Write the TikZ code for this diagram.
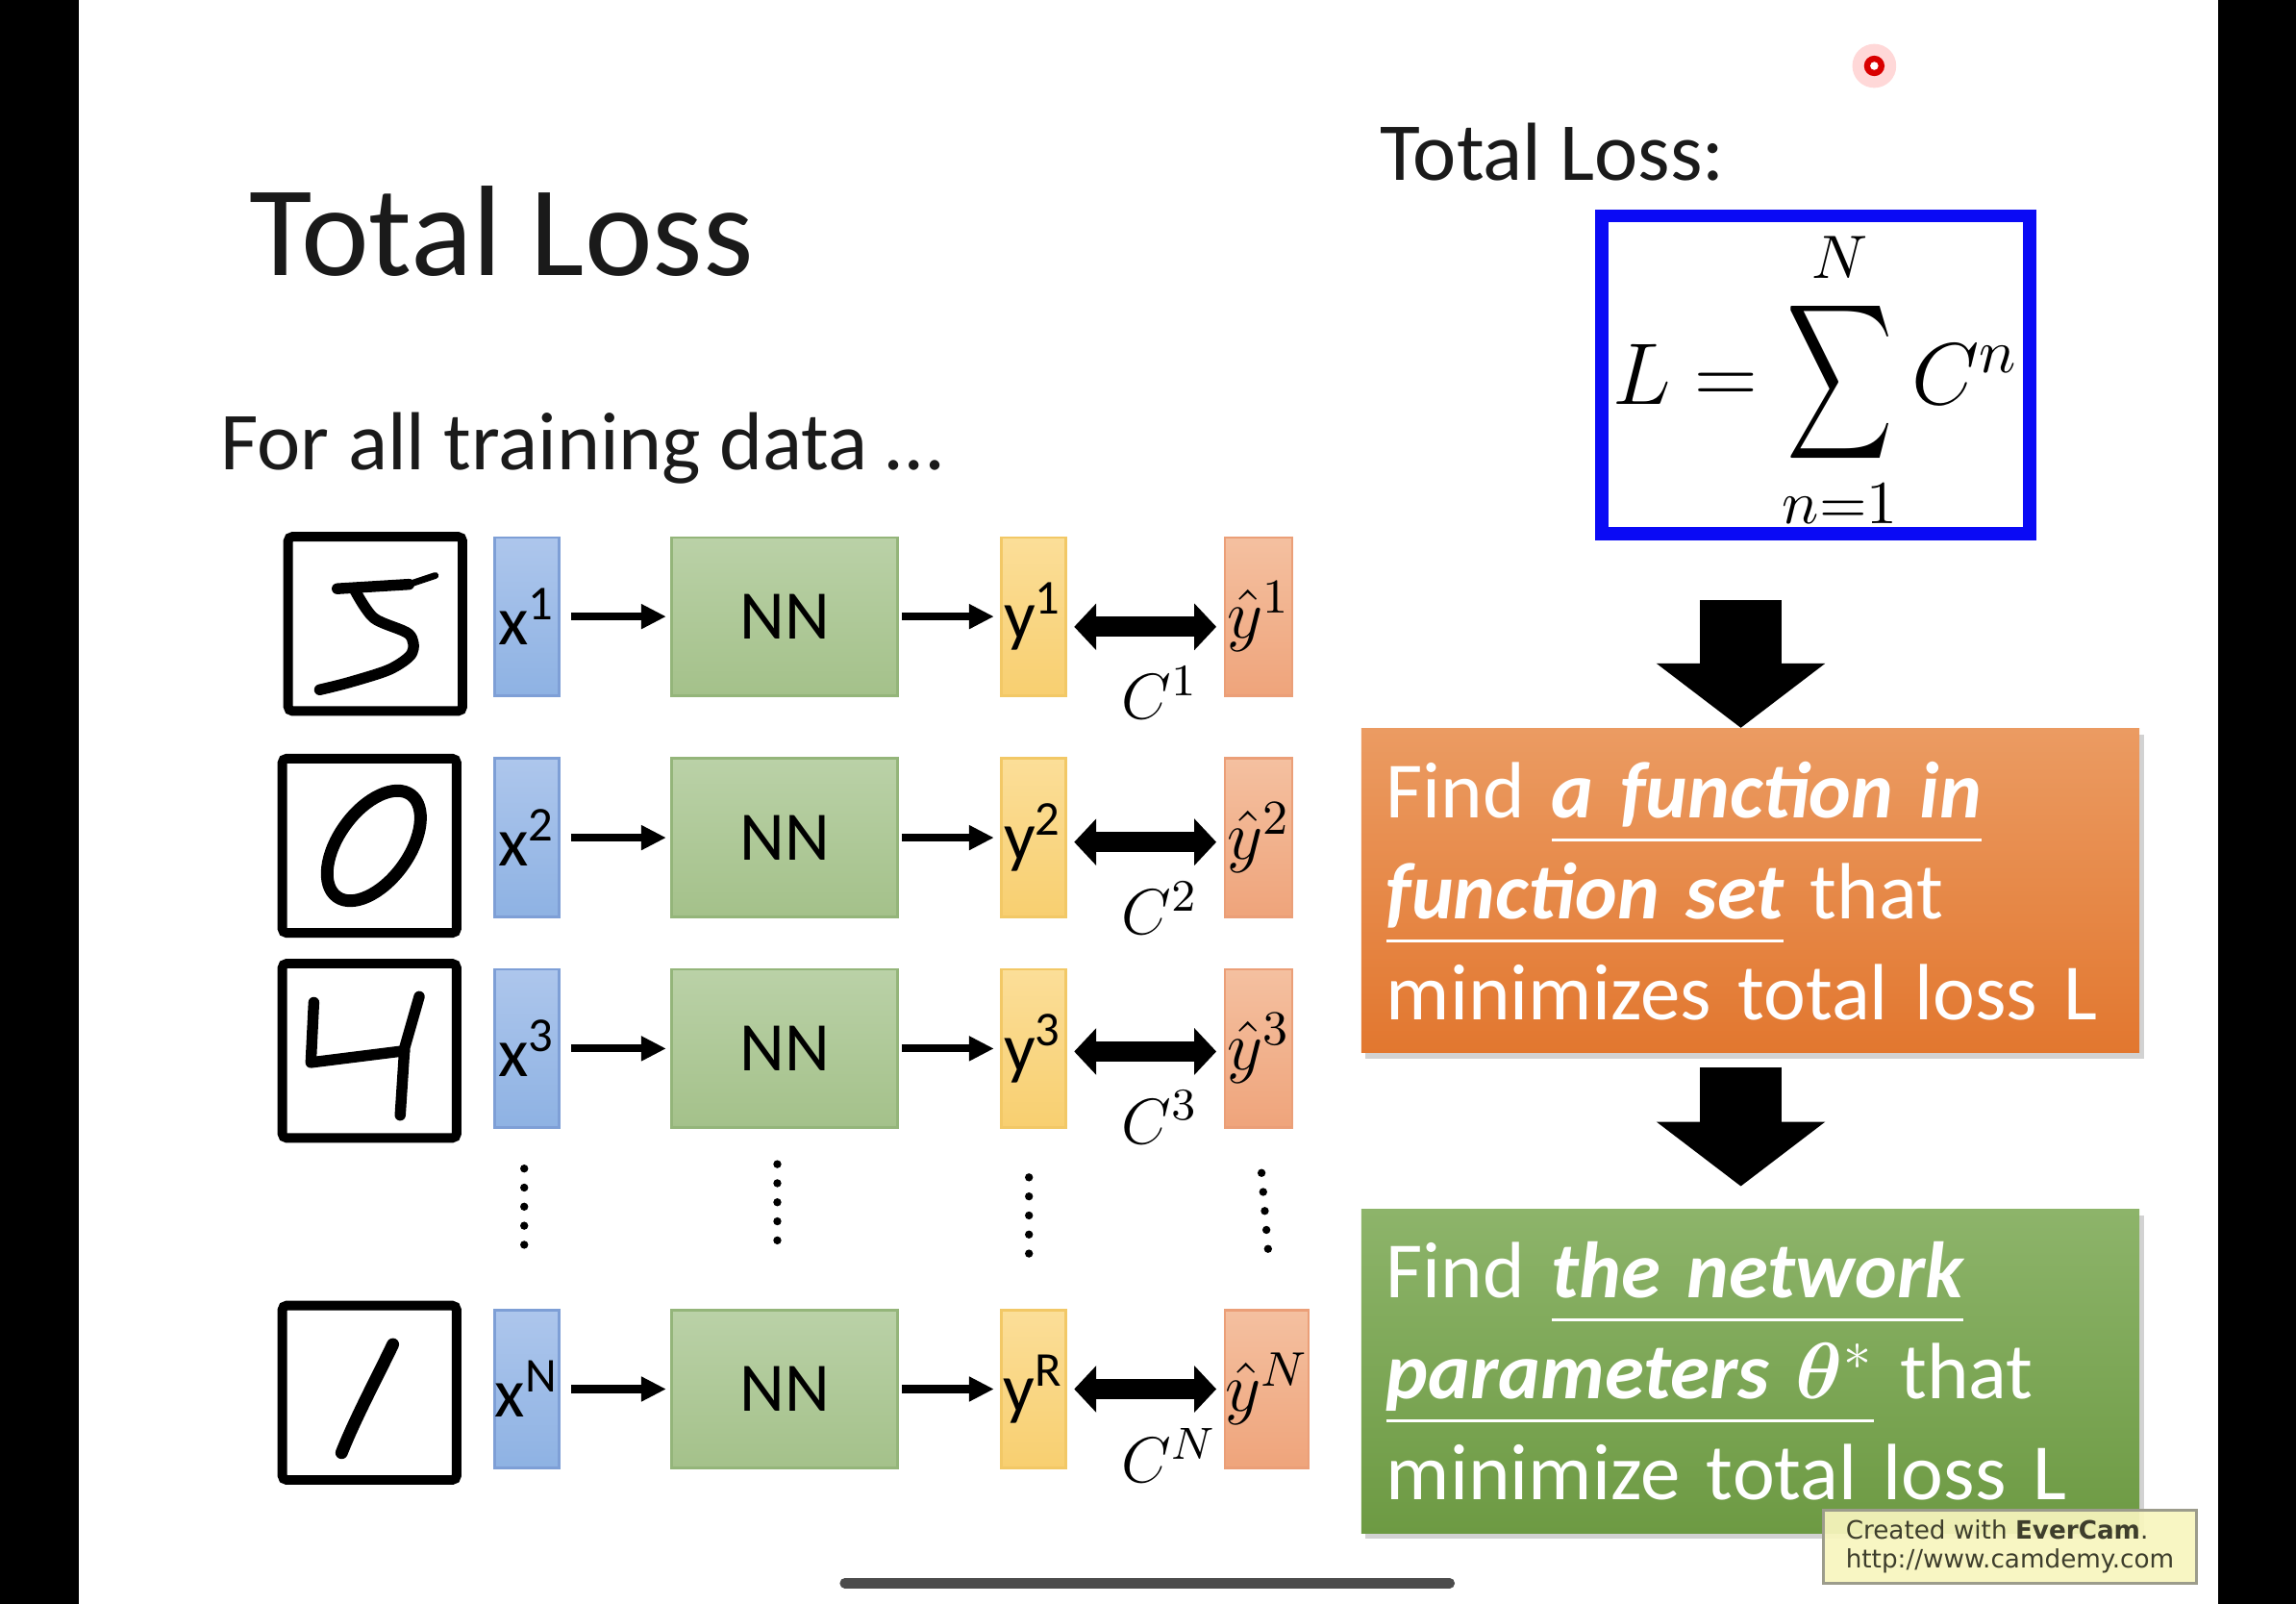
\RequirePackage{fix-cm}
\documentclass[tikz,border=0pt]{standalone}
\usepackage{amsmath,amssymb,bm}
\usepackage[no-math]{fontspec}
\setmainfont{Carlito}
\newfontfamily\stampfont{DejaVu Sans}
\usepackage{xcolor}
\usepackage{graphicx}
\usepackage{tikz}
\usetikzlibrary{arrows.meta, positioning, calc, shadows}

\newcommand{\lineunder}[1]{\leavevmode\setbox0\hbox{#1}\rlap{\rule[-4.6pt]{\wd0}{0.6pt}}\box0}

\definecolor{xtop}{HTML}{ADC6EC}
\definecolor{xbot}{HTML}{8EB2E3}
\definecolor{xedge}{HTML}{7E9FD6}
\definecolor{nntop}{HTML}{BAD1A7}
\definecolor{nnbot}{HTML}{A4C18A}
\definecolor{nnedge}{HTML}{94B57A}
\definecolor{ytop}{HTML}{FBDE98}
\definecolor{ybot}{HTML}{F8CF70}
\definecolor{yedge}{HTML}{F2C866}
\definecolor{hattop}{HTML}{F4C0A0}
\definecolor{hatbot}{HTML}{EFA47B}
\definecolor{hatedge}{HTML}{EB9F78}
\definecolor{frameblue}{HTML}{0A0AF5}
\definecolor{orangetop}{HTML}{EB9B62}
\definecolor{orangebot}{HTML}{E2772F}
\definecolor{greentop}{HTML}{8DB46A}
\definecolor{greenbot}{HTML}{6D9A43}
\definecolor{wmfill}{HTML}{F8F6BE}
\definecolor{wmedge}{HTML}{9C9C8C}
\definecolor{wmtext}{HTML}{3E3E2C}
\definecolor{inkgray}{HTML}{1A1A1A}

\begin{document}
\begin{tikzpicture}[
    x=0.01cm, y=-0.01cm,
    font=\fontsize{16}{19.6}\selectfont,
    plain/.style={inner sep=0pt, text=inkgray},
    digitbox/.style={draw, line width=0.065cm, rounded corners=0.03cm, minimum size=1.19cm, inner sep=0pt},
    pen/.style={line width=0.075cm, line cap=round, line join=round},
    cell/.style={line width=0.5pt, minimum width=0.44cm, minimum height=1.08cm, inner sep=0pt, font=\fontsize{13.5}{16}\selectfont},
    xin/.style={cell, draw=xedge, top color=xtop, bottom color=xbot},
    net/.style={cell, draw=nnedge, top color=nntop, bottom color=nnbot, minimum width=1.54cm},
    yout/.style={cell, draw=yedge, top color=ytop, bottom color=ybot},
    ytrue/.style={cell, draw=hatedge, top color=hattop, bottom color=hatbot, minimum width=0.46cm},
    flow/.style={line width=0.053cm, -{Triangle[length=0.17cm, width=0.16cm]}},
    cost/.style={line width=0.14cm, {Triangle[length=0.15cm, width=0.31cm]}-{Triangle[length=0.15cm, width=0.31cm]}, shorten <=0.05cm, shorten >=0.05cm},
    costlabel/.style={midway, below=0.2cm, xshift=0.1cm, inner sep=0pt, font=\fontsize{12.5}{15}\selectfont},
    dots/.style={line width=0.055cm, line cap=round, dash pattern=on 0pt off 0.13cm},
    bigarrow/.style={line width=0.56cm, -{Triangle[length=0.44cm, width=1.13cm]}},
    result/.style={anchor=north west, minimum width=5.31cm, minimum height=2.21cm, text width=4.97cm, inner xsep=0.17cm, inner ysep=0pt, align=left, text=white, font=\fontsize{15.5}{19.6}\selectfont, drop shadow={shadow xshift=0.03cm, shadow yshift=-0.04cm, opacity=0.35}},
]
    \fill[white] (0,0) rectangle (1568,1095);
    \useasboundingbox (0,0) rectangle (1568,1095);
    \fill[black] (0,0) rectangle (54,1095);
    \fill[black] (1515,0) rectangle (1568,1095);

    \node[plain, anchor=base west, font=\fontsize{25}{30}\selectfont] (title) at (170,188) {Total Loss};
    \node[plain, anchor=base west] (intro) at (150,321) {For all training data …};

    \node[xin] (x1) at (360,421) {x\textsuperscript{1}};
    \node[digitbox, left=0.18cm of x1, yshift=-0.05cm] (img1) {};
    \node[net,   right=0.75cm of x1]  (nn1) {NN};
    \node[yout,  right=0.69cm of nn1] (y1)  {y\textsuperscript{1}};
    \node[ytrue, right=1.07cm of y1]  (yh1) {$\hat{y}^{1}$};
    \draw[flow, shorten <=0.07cm, shorten >=0.03cm] (x1) -- (nn1);
    \draw[flow, shorten <=0.02cm, shorten >=0.04cm] (nn1) -- (y1);
    \draw[cost] ([yshift=-0.07cm]y1.east) -- ([yshift=-0.07cm]yh1.west) node[costlabel] {$C^{1}$};

    \node[xin] (x2) at (360,572) {x\textsuperscript{2}};
    \node[digitbox, left=0.22cm of x2, yshift=-0.055cm] (img2) {};
    \node[net,   right=0.75cm of x2]  (nn2) {NN};
    \node[yout,  right=0.69cm of nn2] (y2)  {y\textsuperscript{2}};
    \node[ytrue, right=1.07cm of y2]  (yh2) {$\hat{y}^{2}$};
    \draw[flow, shorten <=0.07cm, shorten >=0.03cm] (x2) -- (nn2);
    \draw[flow, shorten <=0.02cm, shorten >=0.04cm] (nn2) -- (y2);
    \draw[cost] ([yshift=-0.03cm]y2.east) -- ([yshift=-0.03cm]yh2.west) node[costlabel] {$C^{2}$};

    \node[xin] (x3) at (360,716) {x\textsuperscript{3}};
    \node[digitbox, left=0.22cm of x3, yshift=-0.015cm] (img3) {};
    \node[net,   right=0.75cm of x3]  (nn3) {NN};
    \node[yout,  right=0.69cm of nn3] (y3)  {y\textsuperscript{3}};
    \node[ytrue, right=1.07cm of y3]  (yh3) {$\hat{y}^{3}$};
    \draw[flow, shorten <=0.07cm, shorten >=0.03cm] (x3) -- (nn3);
    \draw[flow, shorten <=0.02cm, shorten >=0.04cm] (nn3) -- (y3);
    \draw[cost] ([yshift=-0.02cm]y3.east) -- ([yshift=-0.02cm]yh3.west) node[costlabel] {$C^{3}$};

    \node[xin] (xN) at (360,948.5) {x\textsuperscript{N}};
    \node[digitbox, left=0.22cm of xN, yshift=-0.025cm] (imgN) {};
    \node[net,   right=0.75cm of xN]  (nnN) {NN};
    \node[yout,  right=0.69cm of nnN] (yN)  {y\textsuperscript{R}};
    \node[ytrue, right=1.07cm of yN]  (yhN) {$\hat{y}^{N}$};
    \draw[flow, shorten <=0.07cm, shorten >=0.03cm] (xN) -- (nnN);
    \draw[flow, shorten <=0.02cm, shorten >=0.04cm] (nnN) -- (yN);
    \draw[cost] (yN.east) -- (yhN.west) node[costlabel, xshift=0.06cm] {$C^{N}$};

    \draw[dots] ([xshift=-0.02cm, yshift=-0.27cm]x3.south) -- ([xshift=-0.02cm, yshift=0.32cm]xN.north);
    \draw[dots] ([xshift=-0.05cm, yshift=-0.24cm]nn3.south) -- ([xshift=-0.05cm, yshift=0.34cm]nnN.north);
    \draw[dots] ([xshift=-0.03cm, yshift=-0.33cm]y3.south) -- ([xshift=-0.03cm, yshift=0.26cm]yN.north);
    \draw[dots] ([xshift=0.02cm, yshift=-0.3cm]yh3.south) -- ([xshift=0.02cm, yshift=0.28cm]yhN.north);

    \begin{scope}[shift={(img1.center)}]
        \draw[pen] (-26,-24) -- (23,-27);
        \draw[pen, line width=0.045cm] (23,-27) -- (41,-33);
        \draw[pen] plot[smooth] coordinates {(-14,-23) (-1,-4) (23,7) (25,20) (10,31) (-18,40) (-38,45)};
    \end{scope}
    \begin{scope}[shift={(img2.center)}, xshift=0.03cm]
        \draw[pen, line width=0.085cm, rotate=54] (0,0) ellipse [x radius=0.43cm, y radius=0.24cm];
    \end{scope}
    \begin{scope}[shift={(img3.center)}]
        \draw[pen] (-38,-33) -- (-40,8) -- (24,0);
        \draw[pen] (34,-37) -- (24,-2) -- (21,44);
    \end{scope}
    \begin{scope}[shift={(imgN.center)}]
        \draw[pen, line width=0.085cm] (16,-33) .. controls (6,-12) and (-10,18) .. (-19,41);
    \end{scope}

    \node[plain, anchor=base west] (losshead) at (942,123) {Total Loss:};
    \node[draw=frameblue, line width=0.09cm, minimum width=2.92cm, minimum height=2.09cm, inner sep=0pt, font=\fontsize{17}{20}\selectfont] (loss) at (1240,256)
        {\raisebox{-0.08cm}[\height][\depth]{$L = \mathop{\vcenter{\hbox{\scalebox{0.84}[1.24]{$\displaystyle\sum$}}}}\limits_{\raisebox{0.09cm}{$\scriptstyle n=1$}}^{N} C^{n}$}};

    \node[result, top color=orangetop, bottom color=orangebot] (findfn) at (929,497)
        {Find {\bfseries\itshape\lineunder{a function in}}\\{\bfseries\itshape\lineunder{function set}} that\\minimizes total loss L};
    \node[result, top color=greentop, bottom color=greenbot] (findnet) at (929,825)
        {Find {\bfseries\itshape\lineunder{the network}}\\{\bfseries\itshape\lineunder{parameters $\bm{\theta}^{*}$}} that\\minimize total loss L};

    \coordinate (dropA) at ([xshift=-0.065cm]findfn.north);
    \coordinate (dropB) at ([xshift=-0.065cm]findnet.north);
    \draw[bigarrow, shorten <=0.41cm] (dropA |- loss.south) -- (dropA);
    \draw[bigarrow, shorten <=0.09cm, shorten >=0.15cm] (dropA |- findfn.south) -- (dropB);

    \node[draw=wmedge, fill=wmfill, fill opacity=0.92, text opacity=1, line width=0.6pt, anchor=north west, minimum width=2.55cm, minimum height=0.5cm, inner xsep=0.13cm, inner ysep=0pt, align=left, text=wmtext, font=\stampfont\fontsize{4.9}{5.7}\selectfont] (stamp) at (1244,1030)
        {Created with \textbf{EverCam}.\\http://www.camdemy.com};

    \fill[red!25, opacity=0.6] (1280,45) circle [radius=0.15cm];
    \fill[red!85!black] (1280,45) circle [radius=0.07cm];
    \fill[white] (1280,45) circle [radius=0.028cm];
    \draw[line width=0.07cm, line cap=round, gray!60!black] (577,1081) -- (990,1081);
\end{tikzpicture}
\end{document}
